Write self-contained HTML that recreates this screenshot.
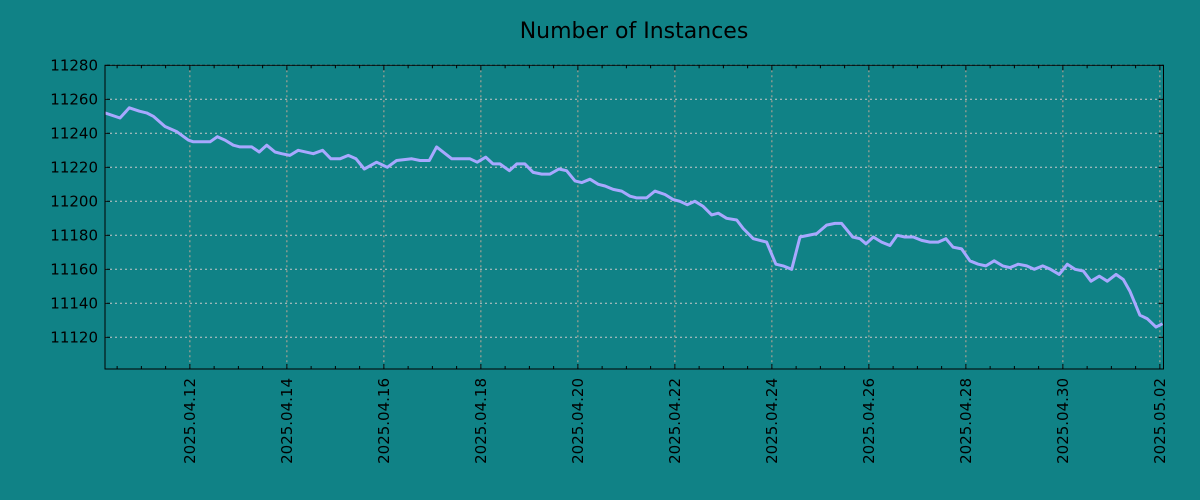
<!DOCTYPE html>
<html><head><meta charset="utf-8"><style>
body{margin:0;background:#108286;}
svg{display:block;font-family:"DejaVu Sans","Liberation Sans",sans-serif;}
</style></head><body>
<svg id="chart" width="1200" height="500">
<rect width="1200" height="500" fill="#108286"/>
<text x="634" y="38" text-anchor="middle" font-size="22" fill="#000">Number of Instances</text>
<g id="grid"></g><g id="series"></g><g id="axes"></g>
</svg>
<script>
// hours since 2025-04-10 00:00
const hours=[6,13.4,18,23,26.6,29.9,35.7,41.5,47.2,49.7,58,61.6,65.4,69.5,72.8,78.6,82.3,86,90.1,93.4,97.5,101.6,109.1,113.7,117.8,122.3,126.4,130.2,134.3,140.4,145.7,150.3,157.8,161.9,166.5,170.1,177.6,186.6,190.2,194.4,198,201.4,206.1,209.8,213.8,217.9,222.1,226.2,230.6,234.4,238.6,241.9,246,250.1,253.4,257.5,261.7,265.8,269.1,274,278.1,283.1,287.2,290.5,294.1,297.9,302,306.2,309.5,313.6,318.6,321.8,326.8,333.4,338,341.6,345.8,349.9,358.2,363.1,367.2,370.5,376,379.6,382.6,386.2,390.3,394.4,398,401.8,406,410.1,414.2,418.3,422.1,425.7,429.9,434,438.1,441.9,446,450.2,453.8,457.9,462.1,465.8,470,473.9,478.2,482.2,486,490.1,493.9,498,502,506.3,509.9,513.2,518.1,521.7,526.1,529.3];
const instances=[11252,11249,11255,11253,11252,11250,11244,11241,11236,11235,11235,11238,11236,11233,11232,11232,11229,11233,11229,11228,11227,11230,11228,11230,11225,11225,11227,11225,11219,11223,11220,11224,11225,11224,11224,11232,11225,11225,11223,11226,11222,11222,11218,11222,11222,11217,11216,11216,11219,11218,11212,11211,11213,11210,11209,11207,11206,11203,11202,11202,11206,11204,11201,11200,11198,11200,11197,11192,11193,11190,11189,11184,11178,11176,11163,11162,11160,11179,11181,11186,11187,11187,11179,11178,11175,11179,11176,11174,11180,11179,11179,11177,11176,11176,11178,11173,11172,11165,11163,11162,11165,11162,11161,11163,11162,11160,11162,11160,11157,11163,11160,11159,11153,11156,11153,11157,11154,11147,11133,11131,11126,11128];
const yTicks=[11120,11140,11160,11180,11200,11220,11240,11260,11280];
const xTickLabels=["2025.04.12","2025.04.14","2025.04.16","2025.04.18","2025.04.20","2025.04.22","2025.04.24","2025.04.26","2025.04.28","2025.04.30","2025.05.02"];
const xTickHours=[48,96,144,192,240,288,336,384,432,480,528];

const L=105,R=1163.5,T=65.3,B=369;
const X0=6,X1=6+(R-L)*24/48.5,Y0=11101.35,Y1=11280;
const sx=h=>L+(h-X0)/(X1-X0)*(R-L);
const sy=v=>B-(v-Y0)/(Y1-Y0)*(B-T);
const NS="http://www.w3.org/2000/svg";
function mk(tag,attrs,parent){const e=document.createElementNS(NS,tag);for(const k in attrs)e.setAttribute(k,attrs[k]);parent.appendChild(e);return e;}
const grid=document.getElementById('grid'),axes=document.getElementById('axes'),series=document.getElementById('series');

yTicks.forEach(v=>{
  const y=sy(v);
  const g=mk('line',{x1:L,x2:R,y1:y,y2:y,stroke:'#c8c8c8','stroke-width':1,'stroke-dasharray':'2,3'},grid);
  
  
  const t1=mk('line',{x1:L,x2:L+5,y1:y,y2:y,stroke:'#000','stroke-width':1},axes);
  
  
  const t2=mk('line',{x1:R-5,x2:R,y1:y,y2:y,stroke:'#000','stroke-width':1},axes);
  
  
  const lb=mk('text',{x:L-7,y:y+5,'text-anchor':'end','font-size':15,fill:'#000'},axes);
  lb.textContent=v;
  
  
});
for(let h=12;h<=X1;h+=12){
  if(h<X0)continue;
  const x=sx(h);
  const major=(h%48===0);
  const len=major?5:3;
  const a=mk('line',{x1:x,x2:x,y1:B,y2:B-len,stroke:'#000','stroke-width':1},axes);
  
  
  const b=mk('line',{x1:x,x2:x,y1:T,y2:T+len,stroke:'#000','stroke-width':1},axes);
  
  
}
xTickHours.forEach((h,i)=>{
  const x=sx(h);
  const g=mk('line',{x1:x,x2:x,y1:T,y2:B,stroke:'#c0a898','stroke-width':1,'stroke-dasharray':'2,3'},grid);
  
  
  const lb=mk('text',{x:0,y:0,'text-anchor':'end','font-size':15,fill:'#000',transform:`translate(${x+5},${B+9}) rotate(-90)`},axes);
  lb.textContent=xTickLabels[i];
  
  
});
const fr=mk('rect',{x:L,y:T,width:R-L,height:B-T,fill:'none',stroke:'#000','stroke-width':1},axes);


const d=hours.map((h,i)=>(i?'L':'M')+sx(h).toFixed(1)+','+sy(instances[i]).toFixed(1)).join(' ');
const p=mk('path',{d:d,fill:'none',stroke:'#a8a8ff','stroke-width':3,'stroke-linejoin':'round'},series);


</script>
</body></html>
